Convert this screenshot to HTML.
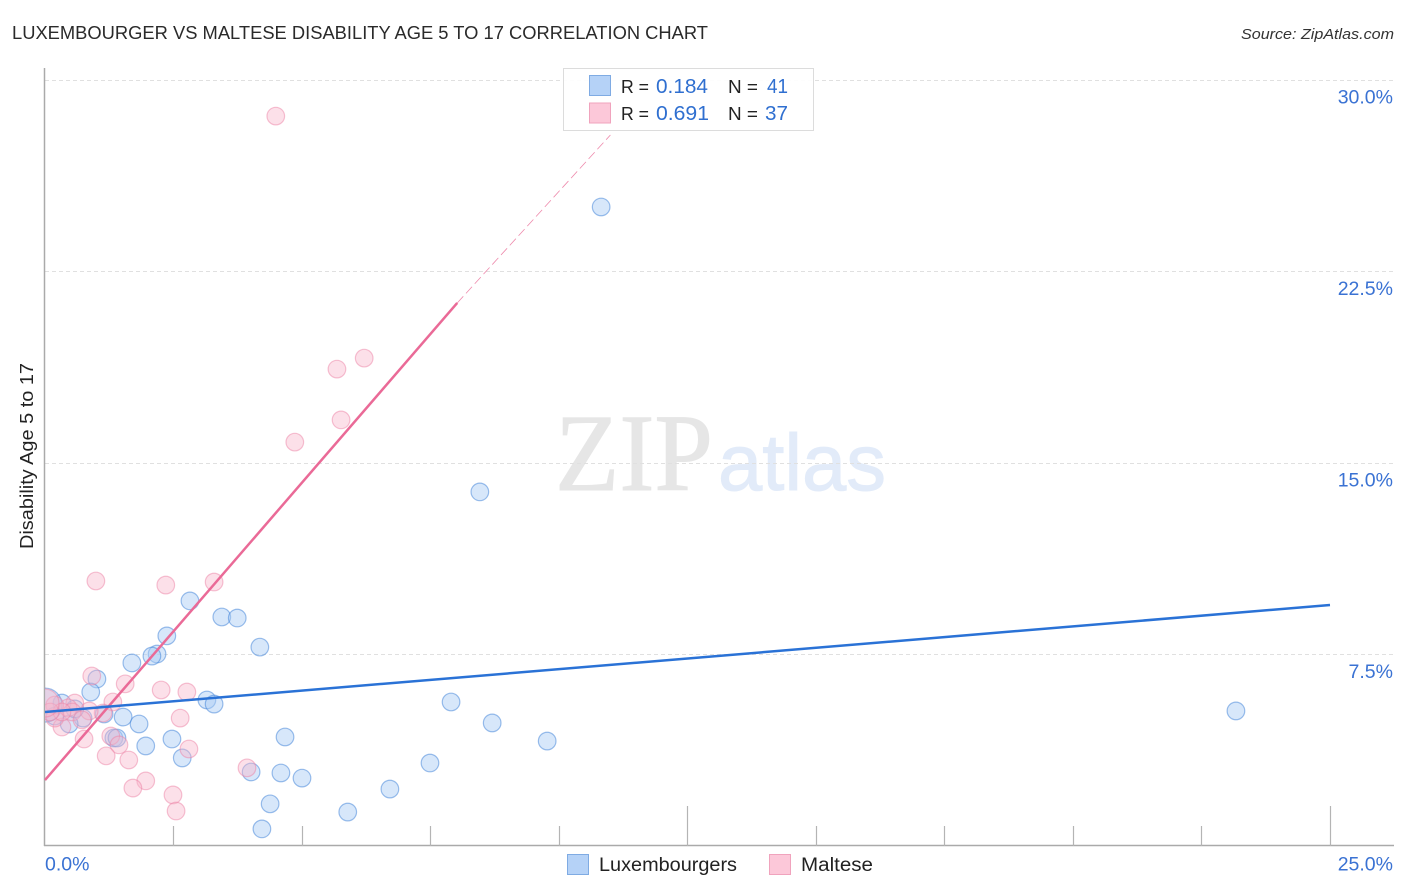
<!DOCTYPE html>
<html lang="en">
<head>
<meta charset="utf-8">
<title>Luxembourger vs Maltese Disability Age 5 to 17 Correlation Chart</title>
<style>
html,body{margin:0;padding:0;background:#fff;width:1406px;height:892px;overflow:hidden}
svg{display:block;font-family:"Liberation Sans",sans-serif}
</style>
</head>
<body>
<svg id="chart" xmlns="http://www.w3.org/2000/svg" width="1406" height="892" viewBox="0 0 1406 892">
  <defs>
    <clipPath id="plot-clip"><rect x="45" y="60" width="1350" height="786"/></clipPath>
  </defs>
  <rect x="0" y="0" width="1406" height="892" fill="#fff"/>
  <text x="12" y="39" font-size="18.5" fill="#2a2a2a" textLength="696" lengthAdjust="spacingAndGlyphs">LUXEMBOURGER VS MALTESE DISABILITY AGE 5 TO 17 CORRELATION CHART</text>
  <text x="1241" y="39" font-size="15" font-style="italic" fill="#333" textLength="153" lengthAdjust="spacingAndGlyphs">Source: ZipAtlas.com</text>
  <text x="555" y="490" font-family="'Liberation Serif',serif" font-size="110" fill="#e6e6e6" stroke="#e6e6e6" stroke-width="1" textLength="158" lengthAdjust="spacingAndGlyphs">ZIP</text>
  <text x="718" y="490" font-size="80" fill="#e2ebf9" stroke="#e2ebf9" stroke-width="1" textLength="168" lengthAdjust="spacingAndGlyphs">atlas</text>
  <g id="grid"></g>
  <g id="axes"></g>
  <g id="points" clip-path="url(#plot-clip)"></g>
  <g id="lines"></g>
  <g>
    <rect x="563.5" y="68.5" width="250" height="62" fill="#fff" fill-opacity="0.93" stroke="#dcdcdc" stroke-width="1"/>
    <rect x="589.5" y="75.5" width="21" height="20" fill="#b5d2f7" stroke="#7fabe3"/>
    <rect x="589.5" y="103" width="21" height="20" fill="#fcc8d9" stroke="#f0a3bd"/>
    <text x="621" y="93" font-size="18.5" fill="#222" textLength="28" lengthAdjust="spacingAndGlyphs">R =</text>
    <text x="656" y="93" font-size="20" fill="#2f6fd0" textLength="52" lengthAdjust="spacingAndGlyphs">0.184</text>
    <text x="728" y="93" font-size="18.5" fill="#222" textLength="30" lengthAdjust="spacingAndGlyphs">N =</text>
    <text x="767" y="93" font-size="20" fill="#2f6fd0" textLength="21" lengthAdjust="spacingAndGlyphs">41</text>
    <text x="621" y="120" font-size="18.5" fill="#222" textLength="28" lengthAdjust="spacingAndGlyphs">R =</text>
    <text x="656" y="120" font-size="20" fill="#2f6fd0" textLength="53" lengthAdjust="spacingAndGlyphs">0.691</text>
    <text x="728" y="120" font-size="18.5" fill="#222" textLength="30" lengthAdjust="spacingAndGlyphs">N =</text>
    <text x="765" y="120" font-size="20" fill="#2f6fd0" textLength="23" lengthAdjust="spacingAndGlyphs">37</text>
  </g>
  <g>
    <rect x="567.5" y="854.5" width="21" height="20" fill="#b5d2f7" stroke="#7fabe3"/>
    <text x="599" y="871" font-size="19" fill="#222" textLength="138" lengthAdjust="spacingAndGlyphs">Luxembourgers</text>
    <rect x="769.5" y="854.5" width="21" height="20" fill="#fcc8d9" stroke="#f0a3bd"/>
    <text x="801" y="871" font-size="19" fill="#222" textLength="72" lengthAdjust="spacingAndGlyphs">Maltese</text>
  </g>
  <text transform="translate(33 456) rotate(-90)" text-anchor="middle" font-size="18" fill="#222" textLength="186" lengthAdjust="spacingAndGlyphs">Disability Age 5 to 17</text>
</svg>
<script>
var yTicks = [7.5, 15, 22.5, 30];
var yTickLabels = ["7.5%", "15.0%", "22.5%", "30.0%"];
var xTicks = [2.5, 5, 7.5, 10, 12.5, 15, 17.5, 20, 22.5, 25];
var xMajorTicks = [12.5, 25];
var xEndTicks = [0, 25];
var xEndLabels = ["0.0%", "25.0%"];

var luxX = [10.82, 8.46, 23.17, 2.82, 3.44, 3.74, 2.37, 4.18, 2.18, 2.08, 1.69, 1.01, 0.89, 3.15, 3.29, 7.90, 1.52, 1.83, 8.70, 1.15, 0.74, 0.47, 4.67, 2.47, 1.34, 1.40, 1.96, 9.77, 2.67, 7.49, 4.01, 4.59, 5.00, 6.71, 4.38, 5.89, 4.22, 0.33, 0.19, 0.58, 0];
var luxY = [25.03, 13.87, 5.29, 9.60, 8.97, 8.93, 8.23, 7.79, 7.52, 7.44, 7.17, 6.54, 6.03, 5.72, 5.56, 5.64, 5.05, 4.78, 4.82, 5.17, 5.01, 4.78, 4.27, 4.19, 4.23, 4.23, 3.92, 4.11, 3.45, 3.25, 2.90, 2.86, 2.66, 2.23, 1.65, 1.33, 0.67, 5.60, 5.09, 5.37, 5.52];
var malX = [4.49, 6.21, 5.68, 5.76, 4.86, 0.99, 2.35, 3.29, 0.91, 1.56, 2.26, 2.76, 1.32, 2.63, 1.13, 0.86, 0.58, 0.76, 1.28, 1.44, 1.19, 1.63, 2.80, 3.93, 1.96, 1.71, 2.49, 2.55, 0.33, 0.19, 0.45, 0.53, 0.19, 0.33, 0.10, 0.72, 0];
var malY = [28.59, 19.11, 18.68, 16.69, 15.82, 10.38, 10.22, 10.34, 6.66, 6.35, 6.11, 6.03, 5.64, 5.01, 5.21, 5.29, 5.60, 4.19, 4.31, 3.96, 3.53, 3.37, 3.80, 3.06, 2.55, 2.27, 2.00, 1.37, 4.66, 5.01, 5.41, 5.25, 5.52, 5.25, 5.25, 4.94, 5.60];

var luxTrendX = [0, 25];
var luxTrendY = [5.25, 9.44];
var malTrendX = [0, 8.02];
var malTrendY = [2.585, 21.27];
var malExtendX = [8.02, 11.0];
var malExtendY = [21.27, 27.85];

var NS = "http://www.w3.org/2000/svg";
var xPos = function (v) { return 45 + v * 51.4; };
var yPos = function (v) { return 846 - v * 25.53; };

function make(tag, attrs, parent) {
  var el = document.createElementNS(NS, tag);
  for (var k in attrs) el.setAttribute(k, attrs[k]);
  parent.appendChild(el);
  return el;
}

var grid = document.getElementById("grid");
var axes = document.getElementById("axes");
var points = document.getElementById("points");
var lines = document.getElementById("lines");

yTicks.forEach(function (t, i) {
  var y = Math.floor(yPos(t)) + 0.5;
  var g = make("line", {x1: 45, x2: 1394, y1: y, y2: y, stroke: "#e0e0e0", "stroke-width": 1, "stroke-dasharray": "4 3"}, grid);
  
  
  var l = make("text", {x: 1393, y: yPos(t) + 23.5, "text-anchor": "end", "font-size": 19.5, fill: "#3a72d3"}, axes);
  l.textContent = yTickLabels[i];
  
  
});

var yAxis = make("line", {x1: 44.5, x2: 44.5, y1: 68, y2: 846, stroke: "#aaa", "stroke-width": 1.5}, axes);


var xAxis = make("line", {x1: 44, x2: 1394, y1: 845.5, y2: 845.5, stroke: "#aaa", "stroke-width": 1.5}, axes);



xTicks.forEach(function (t) {
  var x = Math.floor(xPos(t)) + 0.5;
  var top = xMajorTicks.indexOf(t) >= 0 ? 806 : 826;
  var m = make("line", {x1: x, x2: x, y1: top, y2: 846, stroke: "#b4b4b4", "stroke-width": 1.2}, axes);
  
  
});

xEndTicks.forEach(function (t, i) {
  var isFirst = i === 0;
  var l = make("text", {x: isFirst ? xPos(t) : 1393, y: 870.5, "text-anchor": isFirst ? "start" : "end", "font-size": 19.5, fill: "#3a72d3"}, axes);
  l.textContent = xEndLabels[i];
  
  
});

luxX.forEach(function (v, i) {
  var big = i === luxX.length - 1;
  var c = make("circle", {cx: xPos(v), cy: yPos(luxY[i]), r: big ? 17 : 8.8, fill: "#a9cbf4", "fill-opacity": 0.47, stroke: "#3b80d8", "stroke-opacity": 0.5, "stroke-width": 1.2}, points);
  
  
});

malX.forEach(function (v, i) {
  var big = i === malX.length - 1;
  var c = make("circle", {cx: xPos(v), cy: yPos(malY[i]), r: big ? 14 : 8.8, fill: "#f9b6cb", "fill-opacity": 0.42, stroke: "#ec7fa3", "stroke-opacity": 0.48, "stroke-width": 1.2}, points);
  
  
});

var malExt = make("line", {x1: xPos(malExtendX[0]), y1: yPos(malExtendY[0]), x2: xPos(malExtendX[1]), y2: yPos(malExtendY[1]), stroke: "#ee8aac", "stroke-width": 0.8, "stroke-dasharray": "9 4"}, lines);


var malLine = make("line", {x1: xPos(malTrendX[0]), y1: yPos(malTrendY[0]), x2: xPos(malTrendX[1]), y2: yPos(malTrendY[1]), stroke: "#ea6a97", "stroke-width": 2.5}, lines);


var luxLine = make("line", {x1: xPos(luxTrendX[0]), y1: yPos(luxTrendY[0]), x2: xPos(luxTrendX[1]), y2: yPos(luxTrendY[1]), stroke: "#2a72d6", "stroke-width": 2.5}, lines);


</script>
</body>
</html>
